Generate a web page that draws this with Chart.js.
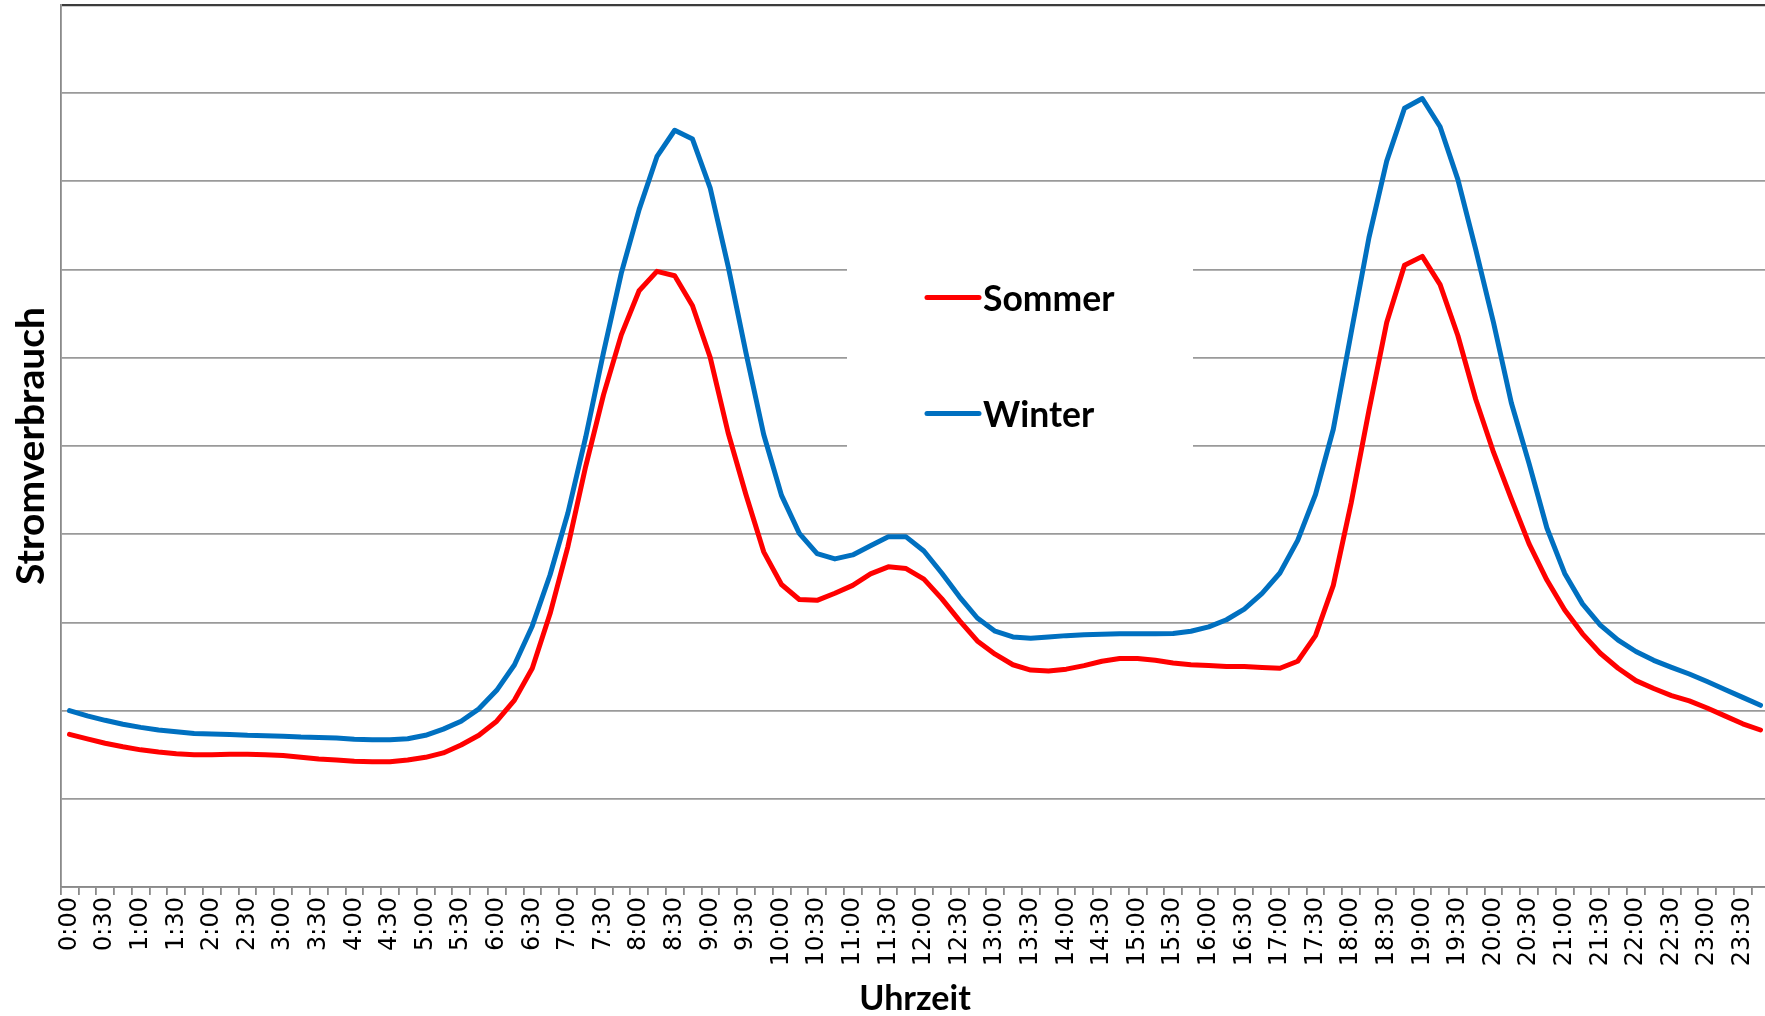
<!DOCTYPE html>
<html lang="de">
<head>
<meta charset="utf-8">
<title>Stromverbrauch Sommer / Winter</title>
<script src="https://cdn.jsdelivr.net/npm/chart.js@4"></script>
<style>
  html, body { margin: 0; padding: 0; background: #fff; overflow: hidden; }
  #chart { display: block; width: 1775px; height: 1016px; }
</style>
</head>
<body>
<canvas id="chart" width="1775" height="1016"></canvas>
<script>
// Uhrzeit in Viertelstunden
const timeLabels = [
  '0:00','0:15','0:30','0:45','1:00','1:15','1:30','1:45',
  '2:00','2:15','2:30','2:45','3:00','3:15','3:30','3:45',
  '4:00','4:15','4:30','4:45','5:00','5:15','5:30','5:45',
  '6:00','6:15','6:30','6:45','7:00','7:15','7:30','7:45',
  '8:00','8:15','8:30','8:45','9:00','9:15','9:30','9:45',
  '10:00','10:15','10:30','10:45','11:00','11:15','11:30','11:45',
  '12:00','12:15','12:30','12:45','13:00','13:15','13:30','13:45',
  '14:00','14:15','14:30','14:45','15:00','15:15','15:30','15:45',
  '16:00','16:15','16:30','16:45','17:00','17:15','17:30','17:45',
  '18:00','18:15','18:30','18:45','19:00','19:15','19:30','19:45',
  '20:00','20:15','20:30','20:45','21:00','21:15','21:30','21:45',
  '22:00','22:15','22:30','22:45','23:00','23:15','23:30','23:45'
];

const sommer = [
  1.73, 1.68, 1.63, 1.59,   1.555, 1.53, 1.51, 1.50,
  1.50, 1.505, 1.505, 1.50, 1.49, 1.47, 1.45, 1.44,
  1.425, 1.42, 1.42, 1.44,  1.47, 1.52, 1.61, 1.72,
  1.88, 2.12, 2.48, 3.10,   3.86, 4.77, 5.58, 6.26,
  6.76, 6.98, 6.93, 6.59,   6.00, 5.15, 4.45, 3.80,
  3.43, 3.26, 3.25, 3.33,   3.42, 3.55, 3.63, 3.61,
  3.49, 3.27, 3.02, 2.79,   2.64, 2.52, 2.46, 2.45,
  2.47, 2.51, 2.56, 2.59,   2.59, 2.57, 2.54, 2.52,
  2.51, 2.50, 2.50, 2.49,   2.48, 2.56, 2.85, 3.42,
  4.35, 5.40, 6.40, 7.05,   7.15, 6.83, 6.25, 5.53,
  4.93, 4.40, 3.89, 3.48,   3.14, 2.87, 2.65, 2.48,
  2.34, 2.25, 2.17, 2.11,   2.03, 1.94, 1.85, 1.78
];

const winter = [
  2.00, 1.94, 1.89, 1.845,  1.81, 1.78, 1.76, 1.74,
  1.735, 1.73, 1.72, 1.715, 1.71, 1.70, 1.695, 1.69,
  1.675, 1.67, 1.67, 1.68,  1.72, 1.79, 1.88, 2.02,
  2.23, 2.52, 2.96, 3.54,   4.24, 5.10, 6.06, 6.96,
  7.68, 8.28, 8.58, 8.48,   7.92, 7.04, 6.06, 5.13,
  4.44, 4.01, 3.78, 3.72,   3.765, 3.87, 3.97, 3.97,
  3.81, 3.56, 3.29, 3.05,   2.90, 2.835, 2.82, 2.835,
  2.85, 2.86, 2.865, 2.87,  2.87, 2.87, 2.875, 2.90,
  2.95, 3.03, 3.15, 3.33,   3.56, 3.93, 4.45, 5.19,
  6.28, 7.36, 8.23, 8.83,   8.94, 8.62, 8.02, 7.23,
  6.40, 5.49, 4.80, 4.07,   3.555, 3.21, 2.97, 2.80,
  2.67, 2.57, 2.49, 2.415,  2.33, 2.24, 2.15, 2.06
];

const seriesNames = ['Sommer', 'Winter'];
const seriesColors = ['#ff0000', '#0070c0'];

const titleFont = 'Lato';
const gridGray = '#9a9a9a';
const axisGray = '#8a8a8a';

// Legende im Diagramm, auf weissem Feld
const legendInArea = {
  id: 'legendInArea',
  beforeDatasetsDraw(chart) {
    const ctx = chart.ctx;
    ctx.save();
    ctx.fillStyle = '#fff';
    ctx.fillRect(847, 226, 346, 252);
    ctx.restore();
  },
  afterDatasetsDraw(chart) {
    const ctx = chart.ctx;
    ctx.save();
    chart.data.datasets.forEach((ds, i) => {
      const y = 297.5 + i * 116;
      ctx.strokeStyle = ds.borderColor;
      ctx.lineWidth = 5;
      ctx.lineCap = 'round';
      ctx.beginPath();
      ctx.moveTo(927, y);
      ctx.lineTo(979, y);
      ctx.stroke();
      ctx.fillStyle = '#000';
      ctx.font = 'bold 35.5px ' + titleFont;
      ctx.textBaseline = 'alphabetic';
      ctx.fillText(ds.label, 983, y + 13);
    });
    ctx.restore();
  }
};

new Chart(document.getElementById('chart'), {
  type: 'line',
  data: {
    labels: timeLabels,
    datasets: [
      { label: seriesNames[0], data: sommer, borderColor: seriesColors[0] },
      { label: seriesNames[1], data: winter, borderColor: seriesColors[1] }
    ]
  },
  options: {
    responsive: false,
    animation: false,
    devicePixelRatio: 1,
    layout: { padding: { top: 5, right: 5.6, left: 0, bottom: 0 } },
    elements: {
      line: { borderWidth: 5, tension: 0, borderCapStyle: 'round', borderJoinStyle: 'round', fill: false },
      point: { radius: 0, hoverRadius: 0 }
    },
    plugins: { legend: { display: false }, tooltip: { enabled: false } },
    scales: {
      x: {
        offset: true,
        grid: { offset: true, drawOnChartArea: false, drawTicks: true, tickLength: 8, color: axisGray, lineWidth: 1.8 },
        border: { color: axisGray, width: 1.8 },
        ticks: {
          autoSkip: false, maxRotation: 90, minRotation: 90, padding: 2, color: '#000',
          font: { family: 'DejaVu Sans', size: 24 },
          callback: (v, i) => i % 2 === 0 ? timeLabels[i] : ''
        },
        title: {
          display: true, text: 'Uhrzeit', color: '#000',
          font: { family: titleFont, weight: 'bold', size: 34, lineHeight: 1 },
          padding: { top: 0, bottom: 0 }
        },
        // feste Hoehe, kein Randzuschlag fuer die gedrehten Beschriftungen
        afterFit: s => { s.height = 129; s.paddingLeft = 0; s.paddingRight = 0; }
      },
      y: {
        min: 0, max: 10,
        ticks: { display: false, stepSize: 1 },
        grid: {
          drawTicks: false,
          color: c => c.tick.value === 10 ? '#3c3c3c' : gridGray,
          lineWidth: c => c.tick.value === 10 ? 2.2 : 1.8
        },
        border: { color: axisGray, width: 1.8 },
        title: {
          display: true, text: 'Stromverbrauch', color: '#000',
          font: { family: titleFont, weight: 'bold', size: 39, lineHeight: 1 },
          padding: { top: 12, bottom: 0 }
        },
        afterFit: s => { s.width = 60.6; s.paddingTop = 0; s.paddingBottom = 0; }
      }
    }
  },
  plugins: [legendInArea]
});
</script>
</body>
</html>
